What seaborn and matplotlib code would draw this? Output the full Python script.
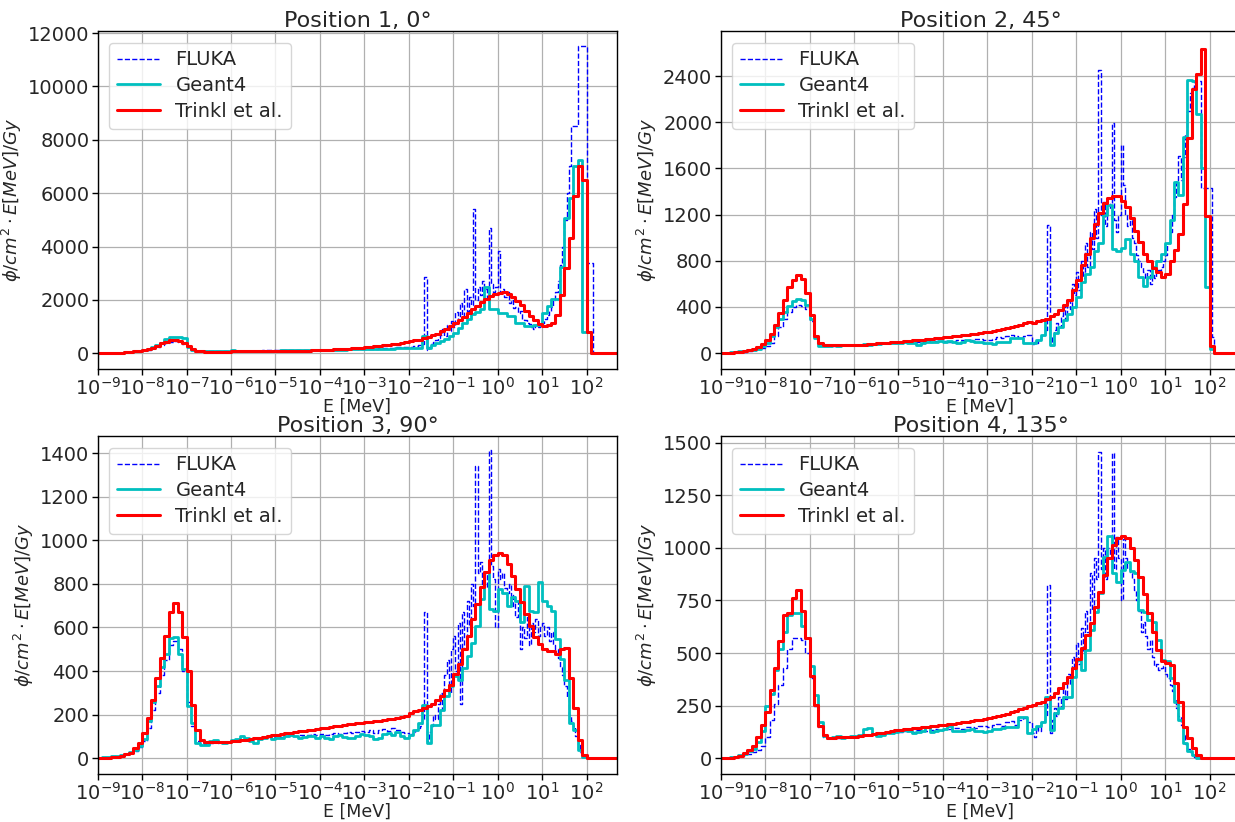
import numpy as np
import pandas as pd
import matplotlib
matplotlib.use("Agg")
import matplotlib.pyplot as plt
import seaborn as sns
from matplotlib.ticker import NullLocator, MultipleLocator

# ---------------- data ----------------
# coarse binning (Trinkl / Geant4): 10 bins per decade, 1e-9 .. 10^2.7 MeV
coarse_log_edges = np.round(np.arange(-9.0, 2.701, 0.1), 3)
# FLUKA: 10 bins/decade below 1e-2 MeV, 20 bins/decade above
fluka_log_edges = np.concatenate([np.round(np.arange(-9.0, -2.0, 0.1), 3),
                                  np.round(np.arange(-2.0, 2.701, 0.05), 3)])

titles = ["Position 1, 0°", "Position 2, 45°", "Position 3, 90°", "Position 4, 135°"]
series_names = ["FLUKA", "Geant4", "Trinkl et al."]

# ---- Position 1 ----
trinkl_p1 = [3, 5, 8, 12, 18, 26, 38, 55, 75, 100,
             130, 160, 210, 290, 370, 440, 490, 500, 460, 370,
             260, 160, 100, 75, 65, 62, 62, 63, 64, 65,
             66, 67, 68, 69, 70, 71, 72, 73, 74, 75,
             77, 79, 82, 85, 88, 92, 97, 103, 110, 117,
             125, 132, 140, 148, 157, 166, 176, 187, 198, 211,
             225, 240, 256, 273, 292, 313, 335, 360, 387, 415,
             445, 478, 515, 560, 610, 670, 740, 820, 910, 1010,
             1120, 1240, 1370, 1500, 1640, 1780, 1910, 2030, 2140, 2220,
             2270, 2290, 2230, 2120, 1970, 1800, 1600, 1400, 1230, 1100,
             1030, 1060, 1150, 1450, 2200, 3200, 4300, 5900, 7000, 6500,
             800, 0, 0, 0, 0, 0, 0]
geant4_p1 = [5, 8, 10, 14, 20, 28, 40, 55, 75, 100,
             110, 150, 220, 300, 400, 540, 610, 620, 620, 560,
             250, 110, 80, 75, 78, 80, 76, 85, 80, 82,
             110, 85, 90, 88, 92, 95, 90, 98, 95, 100,
             100, 105, 108, 110, 112, 115, 118, 120, 125, 128,
             130, 132, 135, 138, 140, 140, 145, 150, 148, 150,
             150, 150, 155, 160, 165, 170, 175, 180, 185, 190,
             190, 185, 200, 630, 190, 300, 380, 450, 520, 640,
             760, 950, 1140, 1300, 1460, 1550, 1650, 2500, 1650, 1650,
             1520, 1520, 1390, 1390, 1140, 1140, 1010, 1010, 1075, 1075,
             1500, 1770, 2030, 2030, 3230, 5060, 5820, 7000, 7250, 800,
             800, 0, 0, 0, 0, 0, 0]
fluka_p1 = [3, 5, 8, 12, 18, 25, 35, 50, 70, 95,
            110, 140, 190, 250, 320, 400, 440, 450, 430, 360,
            230, 120, 85, 80, 82, 80, 85, 88, 85, 90,
            92, 95, 93, 97, 100, 98, 102, 105, 104, 108,
            110, 112, 115, 113, 118, 120, 122, 125, 127, 130,
            132, 135, 138, 140, 142, 146, 150, 152, 155, 160,
            165, 170, 175, 180, 190, 200, 210, 220, 230, 240,
            230, 250, 260, 280, 300, 320, 340, 2850, 120, 250,
            350, 420, 480, 560, 700, 900, 650, 1050, 850, 1200,
            1000, 1550, 1250, 1900, 1400, 2400, 1600, 2100, 1800, 5400,
            2000, 2500, 2200, 2700, 2400, 2100, 4700, 2600, 2300, 2500,
            3850, 2300, 2400, 2100, 2300, 1900, 2000, 1700, 1750, 1500,
            1600, 1300, 1250, 1150, 1100, 1000, 900, 1050, 1000, 1100,
            1150, 1300, 1450, 1600, 1750, 2000, 2300, 2700, 3300, 4000,
            5000, 6000, 7000, 8500, 8500, 8500, 11500, 11500, 11500, 11500,
            3400, 3400, 3400, 0, 0, 0, 0, 0, 0, 0, 0, 0, 0, 0]

# ---- Position 2 ----
trinkl_p2 = [2, 3, 5, 8, 12, 18, 25, 35, 50, 80,
             115, 170, 240, 350, 460, 570, 630, 680, 640, 520,
             330, 150, 90, 75, 70, 68, 68, 69, 70, 70,
             71, 73, 75, 78, 81, 84, 87, 90, 93, 97,
             100, 103, 106, 110, 114, 118, 122, 126, 130, 134,
             137, 141, 145, 150, 155, 160, 165, 170, 175, 180,
             186, 193, 200, 208, 217, 226, 236, 248, 260, 272,
             260, 275, 290, 300, 320, 340, 375, 415, 460, 545,
             630, 760, 860, 1000, 1115, 1215, 1300, 1340, 1360, 1360,
             1320, 1270, 1170, 1060, 960, 860, 800, 740, 700, 660,
             690, 800, 890, 1030, 1290, 1860, 2290, 2420, 2630, 1190,
             60, 0, 0, 0, 0, 0, 0]
geant4_p2 = [3, 5, 8, 10, 15, 20, 25, 30, 40, 60,
             90, 150, 230, 300, 360, 410, 450, 470, 460, 420,
             300, 130, 60, 60, 62, 70, 65, 68, 70, 68,
             72, 75, 78, 75, 80, 82, 85, 88, 86, 90,
             92, 95, 90, 85, 70, 88, 95, 100, 98, 102,
             100, 104, 95, 90, 100, 110, 105, 100, 95, 90,
             85, 80, 100, 100, 100, 129, 129, 129, 91, 91,
             86, 114, 157, 300, 71, 171, 229, 286, 343, 400,
             486, 614, 686, 743, 886, 957, 1200, 1286, 900, 886,
             914, 986, 857, 800, 657, 586, 657, 743, 800, 857,
             957, 1157, 1486, 1371, 1871, 2370, 2360, 2070, 1600, 570,
             40, 0, 0, 0, 0, 0, 0]
fluka_p2 = [2, 4, 6, 8, 10, 14, 18, 24, 32, 45,
            60, 90, 150, 230, 300, 360, 400, 415, 410, 380,
            280, 150, 80, 65, 62, 65, 68, 70, 72, 70,
            72, 74, 76, 78, 80, 82, 84, 86, 88, 90,
            92, 94, 96, 95, 98, 100, 102, 100, 104, 106,
            105, 100, 108, 112, 110, 115, 118, 120, 122, 115,
            110, 125, 140, 130, 150, 160, 145, 135, 150, 160,
            80, 100, 90, 120, 150, 160, 200, 1110, 100, 150,
            200, 260, 230, 320, 400, 300, 450, 380, 600, 500,
            700, 550, 800, 650, 950, 750, 1050, 900, 1250, 1000,
            2450, 1200, 1310, 1100, 1250, 1300, 1990, 1150, 1050, 1200,
            1800, 1460, 1200, 1100, 1150, 1000, 950, 850, 800, 750,
            700, 650, 720, 600, 680, 650, 700, 720, 750, 800,
            850, 950, 1050, 1200, 1350, 1500, 1710, 1500, 1700, 1900,
            2100, 2250, 2300, 2350, 2360, 2360, 1430, 1430, 1430, 1430,
            1430, 140, 0, 0, 0, 0, 0, 0, 0, 0, 0, 0, 0, 0]

# ---- Position 3 ----
trinkl_p3 = [1, 2, 3, 4, 8, 12, 18, 26, 46, 72,
             115, 185, 269, 369, 461, 561, 669, 712, 672, 554,
             400, 246, 131, 85, 77, 76, 76, 76, 77, 77,
             78, 80, 83, 86, 89, 92, 95, 98, 101, 105,
             108, 111, 114, 117, 120, 123, 126, 129, 132, 135,
             138, 140, 143, 146, 149, 152, 155, 158, 161, 163,
             166, 168, 170, 172, 175, 178, 181, 184, 188, 192,
             208, 215, 222, 231, 240, 250, 269, 285, 315, 338,
             385, 431, 500, 561, 638, 708, 785, 854, 908, 931,
             943, 931, 892, 838, 777, 715, 661, 608, 554, 523,
             500, 492, 492, 477, 503, 508, 369, 231, 85, 15,
             0, 0, 0, 0, 0, 0, 0]
geant4_p3 = [3, 5, 8, 10, 12, 16, 20, 28, 38, 55,
             90, 170, 260, 330, 420, 480, 550, 555, 480, 410,
             240, 160, 70, 60, 62, 80, 85, 75, 70, 75,
             85, 90, 100, 95, 80, 70, 88, 95, 100, 90,
             95, 92, 100, 105, 100, 95, 98, 102, 100, 95,
             100, 95, 90, 100, 105, 98, 92, 95, 100, 110,
             105, 100, 90, 95, 110, 115, 105, 120, 100, 92,
             108, 131, 160, 246, 69, 154, 154, 223, 285, 331,
             377, 360, 415, 469, 531, 608, 731, 854, 685, 677,
             777, 760, 700, 740, 720, 623, 792, 677, 669, 808,
             723, 700, 677, 546, 454, 361, 161, 131, 38, 8,
             0, 0, 0, 0, 0, 0, 0]
fluka_p3 = [2, 4, 6, 8, 10, 14, 18, 25, 35, 50,
            80, 140, 220, 300, 380, 450, 520, 540, 500, 400,
            260, 150, 80, 70, 65, 72, 75, 70, 72, 75,
            78, 80, 84, 88, 90, 92, 95, 93, 96, 98,
            100, 98, 102, 104, 100, 106, 108, 105, 110, 108,
            110, 105, 112, 115, 110, 118, 120, 115, 122, 125,
            120, 128, 115, 130, 135, 125, 140, 130, 120, 115,
            100, 110, 120, 130, 140, 150, 180, 670, 80, 120,
            150, 200, 180, 250, 300, 220, 380, 450, 300, 500,
            560, 400, 620, 250, 670, 500, 720, 600, 800, 700,
            1340, 850, 900, 800, 850, 780, 1415, 880, 820, 600,
            870, 820, 850, 780, 760, 800, 700, 750, 650, 720,
            500, 600, 550, 650, 520, 620, 580, 640, 560, 600,
            620, 560, 600, 540, 580, 520, 500, 460, 420, 380,
            330, 280, 200, 170, 150, 100, 60, 30, 10, 5,
            0, 0, 0, 0, 0, 0, 0, 0, 0, 0, 0, 0, 0, 0]

# ---- Position 4 ----
trinkl_p4 = [1, 1, 2, 5, 11, 27, 40, 56, 103, 159,
             222, 322, 428, 555, 682, 690, 760, 800, 700, 571,
             389, 254, 154, 111, 98, 98, 99, 100, 101, 102,
             103, 106, 109, 112, 115, 118, 121, 125, 128, 132,
             135, 137, 139, 142, 144, 147, 149, 152, 154, 157,
             159, 162, 165, 168, 171, 174, 177, 180, 184, 187,
             190, 195, 200, 206, 212, 218, 225, 232, 240, 248,
             254, 262, 269, 280, 293, 310, 333, 357, 388, 428,
             471, 523, 586, 645, 721, 792, 872, 951, 1014, 1046,
             1057, 1046, 998, 943, 864, 780, 689, 602, 515, 460,
             452, 444, 357, 269, 150, 95, 48, 16, 0, 0,
             0, 0, 0, 0, 0, 0, 0]
geant4_p4 = [2, 3, 5, 8, 15, 22, 32, 45, 79, 130,
             246, 306, 420, 520, 600, 682, 690, 690, 630, 571,
             440, 300, 170, 105, 95, 100, 105, 95, 100, 105,
             105, 110, 140, 145, 115, 108, 112, 120, 118, 125,
             130, 135, 128, 122, 125, 130, 150, 125, 128, 132,
             140, 155, 130, 128, 130, 135, 138, 130, 128, 125,
             130, 138, 140, 143, 150, 150, 150, 198, 198, 119,
             140, 154, 174, 293, 135, 214, 238, 293, 293, 388,
             467, 420, 515, 610, 697, 785, 959, 1057, 880, 840,
             896, 935, 888, 880, 705, 697, 658, 650, 560, 467,
             460, 380, 269, 182, 71, 32, 16, 0, 0, 0,
             0, 0, 0, 0, 0, 0, 0]
fluka_p4 = [1, 2, 4, 6, 10, 15, 22, 30, 40, 60,
            100, 180, 260, 350, 430, 520, 570, 570, 560, 500,
            380, 250, 150, 100, 95, 100, 98, 102, 100, 104,
            106, 108, 110, 112, 114, 116, 118, 120, 122, 124,
            126, 128, 130, 126, 132, 134, 130, 136, 138, 135,
            140, 138, 142, 145, 140, 148, 150, 145, 152, 155,
            150, 160, 165, 155, 170, 175, 160, 180, 190, 170,
            120, 100, 150, 130, 170, 180, 200, 822, 120, 180,
            240, 200, 290, 250, 330, 280, 400, 350, 480, 420,
            550, 450, 620, 500, 700, 600, 880, 700, 950, 850,
            1455, 900, 1000, 850, 1000, 950, 1450, 900, 1050, 950,
            750, 1040, 950, 900, 880, 850, 800, 750, 700, 600,
            650, 580, 520, 560, 480, 440, 450, 420, 430, 440,
            400, 380, 350, 320, 280, 240, 200, 160, 110, 70,
            45, 30, 15, 8, 0, 0, 0, 0, 0, 0,
            0, 0, 0, 0, 0, 0, 0, 0, 0, 0, 0, 0, 0, 0]

panels = [
    (fluka_p1, geant4_p1, trinkl_p1),
    (fluka_p2, geant4_p2, trinkl_p2),
    (fluka_p3, geant4_p3, trinkl_p3),
    (fluka_p4, geant4_p4, trinkl_p4),
]
ylims = [(-590, 12075), (-137, 2790), (-72, 1478), (-75, 1532)]
ysteps = [2000, 400, 200, 250]

# ---------------- style ----------------
sns.set_style("ticks")
plt.rcParams['font.family'] = ['DejaVu Sans']
plt.rcParams['mathtext.fontset'] = 'dejavusans'

W, H = 1235, 822
fig = plt.figure(figsize=(W / 100, H / 100), dpi=100)
boxes = [(97.7, 31, 519.5, 338), (720.7, 31, 519.5, 338),
         (97.7, 436, 519.5, 338), (720.7, 436, 519.5, 338)]

styles = {
    "FLUKA": dict(color="b", lw=1.0, linestyle="--"),
    "Geant4": dict(color="c", lw=2.0, linestyle="-"),
    "Trinkl et al.": dict(color="r", lw=2.2, linestyle="-"),
}


def stairs_frame(log_edges, values, name):
    edges = 10.0 ** np.asarray(log_edges)
    vals = np.asarray(values, dtype=float)
    assert len(edges) == len(vals) + 1, (name, len(edges), len(vals))
    return pd.DataFrame({"E": edges, "phi": np.append(vals, vals[-1]), "code": name})


for i, (box, (fl, g4, tr)) in enumerate(zip(boxes, panels)):
    l, t, w, h = box
    ax = fig.add_axes([l / W, 1 - (t + h) / H, w / W, h / H])
    ax.set_xscale("log")
    for name, vals, edges in [("FLUKA", fl, fluka_log_edges),
                              ("Geant4", g4, coarse_log_edges),
                              ("Trinkl et al.", tr, coarse_log_edges)]:
        df = stairs_frame(edges, vals, name)
        sns.lineplot(data=df, x="E", y="phi", ax=ax, label=name,
                     drawstyle="steps-post", estimator=None, sort=False,
                     **styles[name])
    ax.set_xlim(1e-9, 10 ** 2.69)
    ax.set_ylim(*ylims[i])
    ax.set_xticks(10.0 ** np.arange(-9, 3))
    ax.xaxis.set_minor_locator(NullLocator())
    ax.yaxis.set_major_locator(MultipleLocator(ysteps[i]))
    ax.grid(True, color="#b0b0b0", lw=0.9)
    ax.set_axisbelow(True)
    ax.tick_params(labelsize=14, length=4, width=1, color="black", pad=2)
    for sp in ax.spines.values():
        sp.set_color("black")
        sp.set_linewidth(1.0)
    ax.set_title(titles[i], fontsize=16, pad=3)
    ax.set_xlabel("E [MeV]", fontsize=12.5, labelpad=-1)
    ax.set_ylabel(r"$\phi/cm^2 \cdot E[MeV]/Gy$", fontsize=13, labelpad=3)
    leg = ax.legend(loc="upper left", fontsize=14, frameon=True,
                    fancybox=True, framealpha=0.8, edgecolor="#cccccc",
                    borderaxespad=0.6, handlelength=2.2, labelspacing=0.35)

fig.savefig("out.png", dpi=100)
